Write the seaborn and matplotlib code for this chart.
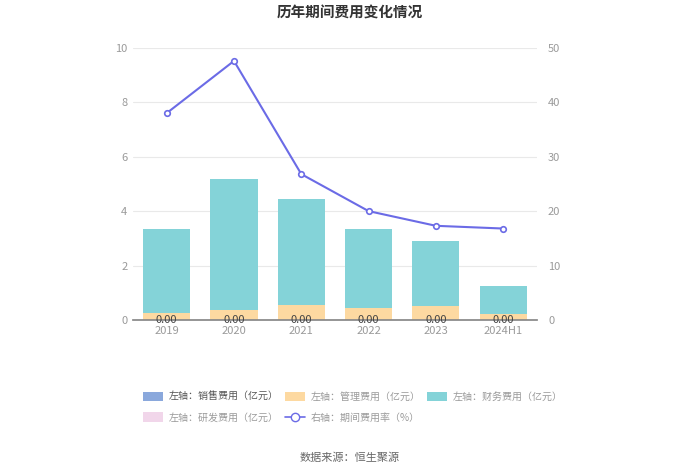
import numpy as np
import pandas as pd
import matplotlib
matplotlib.use("Agg")
import matplotlib.pyplot as plt
import seaborn as sns
from matplotlib.patches import Patch
from matplotlib.lines import Line2D

# ----------------------------
# Data
# ----------------------------
years = ["2019", "2020", "2021", "2022", "2023", "2024H1"]
sales_fee = [0.00, 0.00, 0.00, 0.00, 0.00, 0.00]
mgmt_fee = [0.25, 0.37, 0.55, 0.43, 0.51, 0.21]
finance_fee = [3.08, 4.81, 3.90, 2.90, 2.41, 1.04]
rd_fee = [0.00, 0.00, 0.00, 0.00, 0.00, 0.00]
fee_rate = [38.0, 47.6, 26.8, 20.0, 17.3, 16.8]

# ----------------------------
# Style
# ----------------------------
C_SALES = "#8aa8dc"
C_MGMT = "#fdd9a1"
C_FIN = "#84d3d8"
C_RD = "#f1d6ea"
C_LINE = "#6b6be6"
GREY = "#9a9a9a"

sns.set_theme(style="white")
plt.rcParams["font.family"] = ["Noto Sans CJK SC", "DejaVu Sans"]

df = pd.DataFrame({"year": years, "sales": sales_fee, "mgmt": mgmt_fee,
                   "finance": finance_fee, "rd": rd_fee})
df["c1"] = df["sales"]
df["c2"] = df["c1"] + df["mgmt"]
df["c3"] = df["c2"] + df["finance"]
df["c4"] = df["c3"] + df["rd"]

fig = plt.figure(figsize=(7, 4.74), dpi=100)
ax = fig.add_axes([0.19, 0.325, 0.577, 0.574])

# stacked bars drawn as layered cumulative sums
for col, color in [("c4", C_RD), ("c3", C_FIN), ("c2", C_MGMT), ("c1", C_SALES)]:
    sns.barplot(data=df, x="year", y=col, color=color, saturation=1,
                width=0.7, linewidth=0, edgecolor="none", ax=ax, zorder=2)

for i in range(len(years)):
    ax.text(i, 0, f"{sales_fee[i]:.2f}", ha="center", va="center",
            fontsize=8, color="#444444", zorder=5)

ax.set_ylim(0, 10)
ax.set_yticks(range(0, 11, 2))
ax.set_xlim(-0.5, len(years) - 0.5)
ax.set_xlabel("")
ax.set_ylabel("")
ax.grid(axis="y", color="#e9e9e9", linewidth=0.8, zorder=0)
ax.set_axisbelow(True)
for s in ["top", "right", "left"]:
    ax.spines[s].set_visible(False)
ax.spines["bottom"].set_color("#888888")
ax.tick_params(axis="both", length=0, colors=GREY, labelsize=8, pad=4)

ax2 = ax.twinx()
sns.lineplot(x=np.arange(len(years)), y=fee_rate, ax=ax2, color=C_LINE,
             linewidth=1.5, marker="o", markersize=4, markerfacecolor="white",
             markeredgecolor=C_LINE, markeredgewidth=1.2, zorder=4)
ax2.set_ylim(0, 50)
ax2.set_yticks(range(0, 51, 10))
for s in ["top", "right", "left", "bottom"]:
    ax2.spines[s].set_visible(False)
ax2.tick_params(axis="y", length=0, colors=GREY, labelsize=8, pad=8)

fig.suptitle("历年期间费用变化情况", x=0.5, y=0.99, fontsize=10.5,
             fontweight="bold", color="#333333")

handles = [
    Patch(facecolor=C_SALES, edgecolor="none"),
    Patch(facecolor=C_RD, edgecolor="none"),
    Patch(facecolor=C_MGMT, edgecolor="none"),
    Line2D([0], [0], color=C_LINE, marker="o", markersize=6,
           markerfacecolor="white", markeredgecolor=C_LINE, linewidth=1.2),
    Patch(facecolor=C_FIN, edgecolor="none"),
]
labels = ["左轴：销售费用（亿元）", "左轴：研发费用（亿元）", "左轴：管理费用（亿元）",
          "右轴：期间费用率（%）", "左轴：财务费用（亿元）"]
leg = fig.legend(handles, labels, ncol=3, loc="upper left",
                 bbox_to_anchor=(0.198, 0.182), frameon=False, fontsize=7.2,
                 handlelength=2.0, handleheight=1.1, handletextpad=0.6,
                 columnspacing=0.6, labelspacing=1.05, borderaxespad=0)
for i, t in enumerate(leg.get_texts()):
    t.set_color("#555555" if i == 0 else GREY)

fig.text(0.5, 0.035, "数据来源：恒生聚源", ha="center", va="center",
         fontsize=8, color="#666666")

fig.savefig("out.png", dpi=100)
